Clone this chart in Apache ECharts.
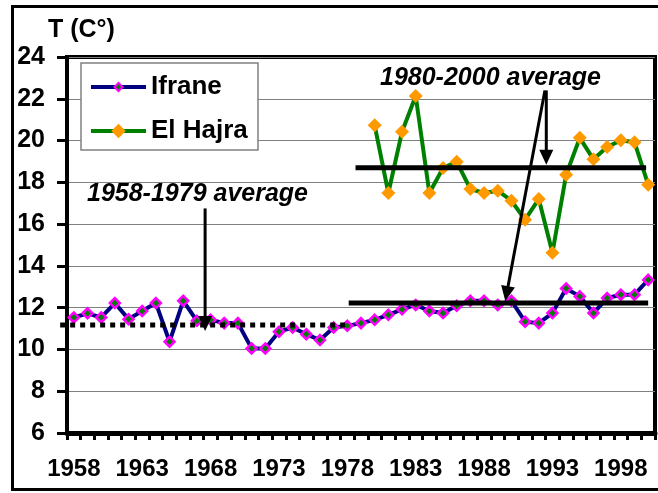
<!DOCTYPE html>
<html><head><meta charset="utf-8">
<script src="https://cdn.jsdelivr.net/npm/echarts@6/dist/echarts.min.js"></script>
<style>html,body{margin:0;padding:0;background:#fff}#c{width:658px;height:493px}</style>
</head><body><div id="c"></div>
<script>
const years = ['1958','1959','1960','1961','1962','1963','1964','1965','1966','1967',
  '1968','1969','1970','1971','1972','1973','1974','1975','1976','1977',
  '1978','1979','1980','1981','1982','1983','1984','1985','1986','1987',
  '1988','1989','1990','1991','1992','1993','1994','1995','1996','1997',
  '1998','1999','2000'];
const ifrane = [11.53,11.73,11.53,12.22,11.45,11.84,12.22,10.37,12.33,11.37,
  11.42,11.26,11.26,10.05,10.05,10.85,11.05,10.73,10.45,11.05,
  11.13,11.26,11.42,11.66,11.92,12.13,11.84,11.74,12.09,12.33,
  12.33,12.13,12.33,11.33,11.26,11.74,12.92,12.54,11.74,12.46,
  12.62,12.62,13.33];
const elHajra = [null,null,null,null,null,null,null,null,null,null,
  null,null,null,null,null,null,null,null,null,null,
  null,null,20.73,17.49,20.42,22.13,17.49,18.69,18.98,17.68,
  17.49,17.6,17.12,16.21,17.2,14.63,18.36,20.13,19.1,19.69,
  20.01,19.92,17.89];
const yMin = 6, yMax = 24, yStep = 2;
// average lines: [yearStart, value, yearEnd, value]
const avgEarly = [[1957, 11.17, 1978, 11.17]];
const avgLate = [[1978.1, 12.22, 2000, 12.22], [1978.6, 18.7, 1999.85, 18.7]];
// annotation arrows: [yearFrom, valueFrom, yearTo, valueTo]
const arrows = [[1967.6, 16.75, 1967.6, 10.88], [1992.55, 22.4, 1992.55, 18.84], [1992.45, 22.4, 1989.55, 12.32]];

const FONT = 'Liberation Sans, Arial, sans-serif';
const chart = echarts.init(document.getElementById('c'), null, {renderer: 'canvas'});

function segItem(style) {
  return function (params, api) {
    const p1 = api.coord([api.value(0), api.value(1)]);
    const p2 = api.coord([api.value(2), api.value(3)]);
    return {type: 'line', shape: {x1: p1[0], y1: p1[1], x2: p2[0], y2: p2[1]}, style: style};
  };
}
function arrowItem(params, api) {
  const p1 = api.coord([api.value(0), api.value(1)]);
  const p2 = api.coord([api.value(2), api.value(3)]);
  const dx = p2[0] - p1[0], dy = p2[1] - p1[1];
  const len = Math.hypot(dx, dy);
  const ux = dx / len, uy = dy / len;
  const hl = 15, hw = 7;
  const bx = p2[0] - ux * hl, by = p2[1] - uy * hl;
  return {type: 'group', children: [
    {type: 'line', shape: {x1: p1[0], y1: p1[1], x2: bx + ux, y2: by + uy}, style: {stroke: '#000', lineWidth: 3}},
    {type: 'polygon', shape: {points: [[p2[0], p2[1]], [bx - uy * hw, by + ux * hw], [bx + uy * hw, by - ux * hw]]}, style: {fill: '#000'}}
  ]};
}

const legendBase = {
  left: 89, orient: 'vertical', padding: 0, itemWidth: 55, itemGap: 5, z: 5,
  lineStyle: {width: 4},
  textStyle: {fontSize: 26, fontWeight: 'bold', color: '#000', fontFamily: FONT}
};

const option = {
  animation: false,
  backgroundColor: '#fff',
  textStyle: {fontFamily: FONT},
  grid: {left: 67, right: 3, top: 57, bottom: 60, show: true, borderColor: '#000', borderWidth: 4, backgroundColor: 'transparent'},
  xAxis: [{
    type: 'category', data: years, boundaryGap: true,
    axisLine: {show: true, lineStyle: {color: '#000', width: 5}},
    axisTick: {show: true, inside: false, interval: 0, length: 7, lineStyle: {color: '#000', width: 3}},
    axisLabel: {interval: 4, color: '#000', fontSize: 24, fontWeight: 'bold', fontFamily: FONT, margin: 24},
    splitLine: {show: false}
  }, {
    type: 'value', min: 1957.5, max: 2000.5, show: false
  }],
  yAxis: {
    type: 'value', min: yMin, max: yMax, interval: yStep,
    axisLine: {show: true, lineStyle: {color: '#000', width: 4}},
    axisTick: {show: true, inside: false, length: 10, lineStyle: {color: '#000', width: 3}},
    axisLabel: {color: '#000', fontSize: 25, fontWeight: 'bold', fontFamily: FONT, margin: 22},
    splitLine: {show: true, lineStyle: {color: '#808080', width: 1}}
  },
  legend: [
    Object.assign({}, legendBase, {data: ['Ifrane'], top: 74, itemHeight: 10}),
    Object.assign({}, legendBase, {data: ['El Hajra'], top: 118, itemHeight: 18})
  ],
  graphic: [
    {type: 'rect', z: 3, shape: {x: 81, y: 63, width: 177, height: 87}, style: {fill: '#fff', stroke: '#808080', lineWidth: 1.5}},
    {type: 'rect', z: 10, silent: true, shape: {x: 12.5, y: 6.5, width: 660, height: 483}, style: {fill: 'none', stroke: '#000', lineWidth: 3}},
    {type: 'text', z: 10, x: 48, y: 30, style: {text: 'T (C°)', font: 'bold 25px ' + FONT, fill: '#000', verticalAlign: 'middle'}},
    {type: 'text', z: 10, x: 87, y: 194, style: {text: '1958-1979 average', font: 'italic bold 25px ' + FONT, fill: '#000', verticalAlign: 'middle'}},
    {type: 'text', z: 10, x: 380, y: 78, style: {text: '1980-2000 average', font: 'italic bold 25px ' + FONT, fill: '#000', verticalAlign: 'middle'}}
  ],
  series: [{
    name: 'Ifrane', type: 'line', data: ifrane,
    symbol: 'diamond', symbolSize: 10, showSymbol: true, showAllSymbol: true,
    itemStyle: {color: '#008000', borderColor: '#FF00FF', borderWidth: 2.5},
    lineStyle: {color: '#000080', width: 4}, z: 2
  }, {
    name: 'El Hajra', type: 'line', data: elHajra, connectNulls: false,
    symbol: 'diamond', symbolSize: 14, showSymbol: true, showAllSymbol: true,
    itemStyle: {color: '#FF9900', borderWidth: 0},
    lineStyle: {color: '#008000', width: 4}, z: 2
  }, {
    type: 'custom', xAxisIndex: 1, yAxisIndex: 0, z: 4, silent: true,
    data: avgEarly, renderItem: segItem({stroke: '#000', lineWidth: 5, lineDash: [5, 5]})
  }, {
    type: 'custom', xAxisIndex: 1, yAxisIndex: 0, z: 4, silent: true,
    data: avgLate, renderItem: segItem({stroke: '#000', lineWidth: 5})
  }, {
    type: 'custom', xAxisIndex: 1, yAxisIndex: 0, z: 4, silent: true,
    data: arrows, renderItem: arrowItem
  }]
};
chart.setOption(option);
</script>
</body></html>
